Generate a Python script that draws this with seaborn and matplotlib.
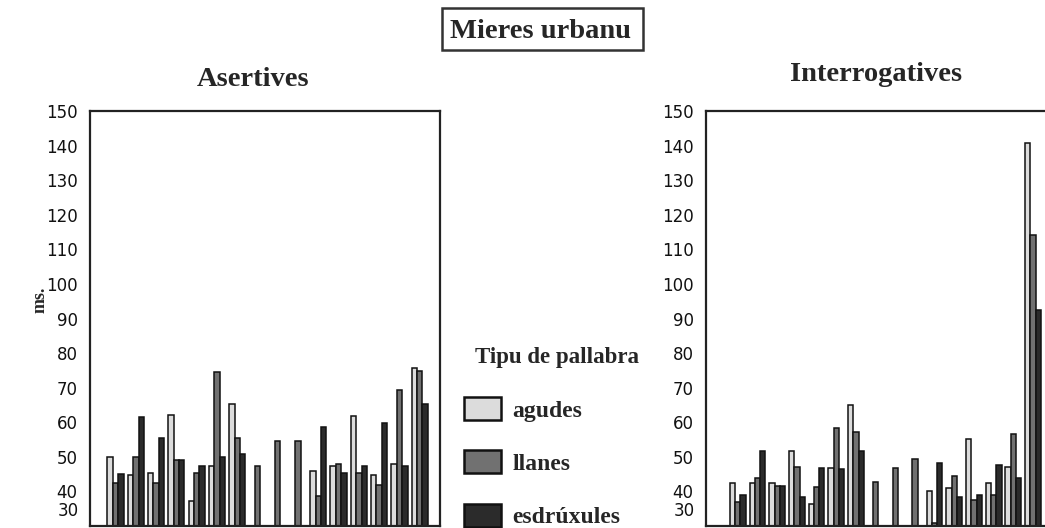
import numpy as np
import pandas as pd
import matplotlib
matplotlib.use("Agg")
import matplotlib.pyplot as plt
import matplotlib.transforms as mtransforms
from matplotlib.patches import Rectangle
import seaborn as sns

nan = np.nan

# Sentences (clusters) and word-stress types (bars within a cluster)
frases = [str(i) for i in range(1, 17)]
tipos = ["agudes", "llanes", "esdrúxules"]
colores = ["#dcdcdc", "#717171", "#2b2b2b"]

# Durations (ms) - declarative sentences
asert_agudes = [50, 44.7, 45.2, 62, 37.3, 47.3, 65.4, nan, nan, nan, 45.9, 47.3, 61.7, 44.7, 47.8, 75.8]
asert_llanes = [42.5, 50, 42.4, 49, 45.2, 74.6, 55.4, 47.3, 54.6, 54.6, 38.7, 47.8, 45.2, 42, 69.2, 74.7]
asert_esdruxules = [45, 61.4, 55.4, 49, 47.3, 50, 50.9, nan, nan, nan, 58.5, 45.2, 47.3, 59.9, 47.3, 65.4]

# Durations (ms) - interrogative sentences
inter_agudes = [42.3, 42.3, 42.3, 51.8, 36.3, 46.9, 65, nan, nan, nan, 40.2, 41.1, 55.2, 42.3, 47, 140.7]
inter_llanes = [37, 43.8, 41.5, 47, 41.2, 58.2, 57.1, 42.8, 46.9, 49.5, 30.8, 44.5, 37.5, 38.9, 56.6, 114.1]
inter_esdruxules = [38.9, 51.8, 41.5, 38.5, 46.9, 46.4, 51.8, nan, nan, nan, 48.3, 38.5, 38.9, 47.6, 43.8, 92.6]

y_ticks = list(range(40, 151, 10))


def long_table(agudes, llanes, esdruxules):
    rows = []
    for tipo, vals in zip(tipos, [agudes, llanes, esdruxules]):
        for frase, v in zip(frases, vals):
            rows.append({"frase": frase, "tipu": tipo, "ms": v})
    return pd.DataFrame(rows).dropna()


sns.set_style("white")
plt.rcParams["font.family"] = ["DejaVu Sans"]

W, H = 1045, 528
fig = plt.figure(figsize=(W / 100, H / 100), dpi=100)


def px_axes(x0, y_top, w, h):
    return fig.add_axes([x0 / W, 1 - (y_top + h) / H, w / W, h / H])


ax1 = px_axes(90, 111, 350, 415)
ax2 = px_axes(706, 111, 350, 415)

serif_bold = dict(family="Liberation Serif", weight="bold")

panels = [
    (ax1, long_table(asert_agudes, asert_llanes, asert_esdruxules), (-1.26, 16.0), True),
    (ax2, long_table(inter_agudes, inter_llanes, inter_esdruxules), (-1.62, 16.17), False),
]

for ax, df, xlim, show_legend in panels:
    sns.barplot(data=df, x="frase", y="ms", hue="tipu", order=frases,
                hue_order=tipos, palette=colores, saturation=1,
                edgecolor="#111111", linewidth=1.1, errorbar=None,
                legend=show_legend, ax=ax)
    ax.set_xlim(*xlim)
    ax.set_ylim(30, 150)
    ax.set_yticks(y_ticks)
    ax.set_yticklabels([str(t) for t in y_ticks])
    ax.set_xticks(range(len(frases)))
    ax.set_xticklabels([])
    ax.set_xlabel("")
    ax.set_ylabel("")
    ax.tick_params(axis="y", direction="out", length=5, width=1.6,
                   labelsize=12, pad=4, colors="#111111")
    ax.tick_params(axis="x", direction="out", length=4, width=1.2,
                   colors="#111111")
    for s in ax.spines.values():
        s.set_visible(True)
        s.set_linewidth(1.6)
        s.set_color("#222222")
    # lowest value label sits just above the baseline
    tr = mtransforms.blended_transform_factory(ax.transAxes, ax.transData)
    ax.text(-0.031, 34.4, "30", transform=tr, ha="right", va="center",
            fontsize=12, color="#111111")

handles, labels = ax1.get_legend_handles_labels()
if ax1.get_legend() is not None:
    ax1.get_legend().remove()

# Panel titles
fig.text(253 / W, 1 - 86 / H, "Asertives", ha="center", va="baseline",
         fontsize=20.5, **serif_bold)
fig.text(876 / W, 1 - 81 / H, "Interrogatives", ha="center", va="baseline",
         fontsize=20.5, **serif_bold)

# Boxed main title
fig.patches.append(Rectangle((442 / W, 1 - 50 / H), 201 / W, 42 / H,
                             transform=fig.transFigure, fill=False,
                             edgecolor="#333333", linewidth=1.8))
fig.text(541 / W, 1 - 38.5 / H, "Mieres urbanu", ha="center", va="baseline",
         fontsize=20.5, **serif_bold)

# Shared y-axis label
fig.text(40 / W, 1 - 300 / H, "ms.", rotation=90, ha="center", va="center",
         fontsize=13, **serif_bold)

# Legend
fig.text(557 / W, 1 - 357 / H, "Tipu de pallabra", ha="center", va="center",
         fontsize=16.5, **serif_bold)
leg = fig.legend(handles, labels, loc="upper left",
                 bbox_to_anchor=(464 / W, 1 - 397 / H), frameon=False,
                 prop=dict(family="Liberation Serif", weight="bold", size=17),
                 handlelength=1.55, handleheight=1.12, labelspacing=1.22,
                 handletextpad=0.5, borderpad=0, borderaxespad=0)
for h in leg.legend_handles:
    h.set_linewidth(1.8)
    h.set_edgecolor("#111111")

fig.savefig("out.png", dpi=100)
